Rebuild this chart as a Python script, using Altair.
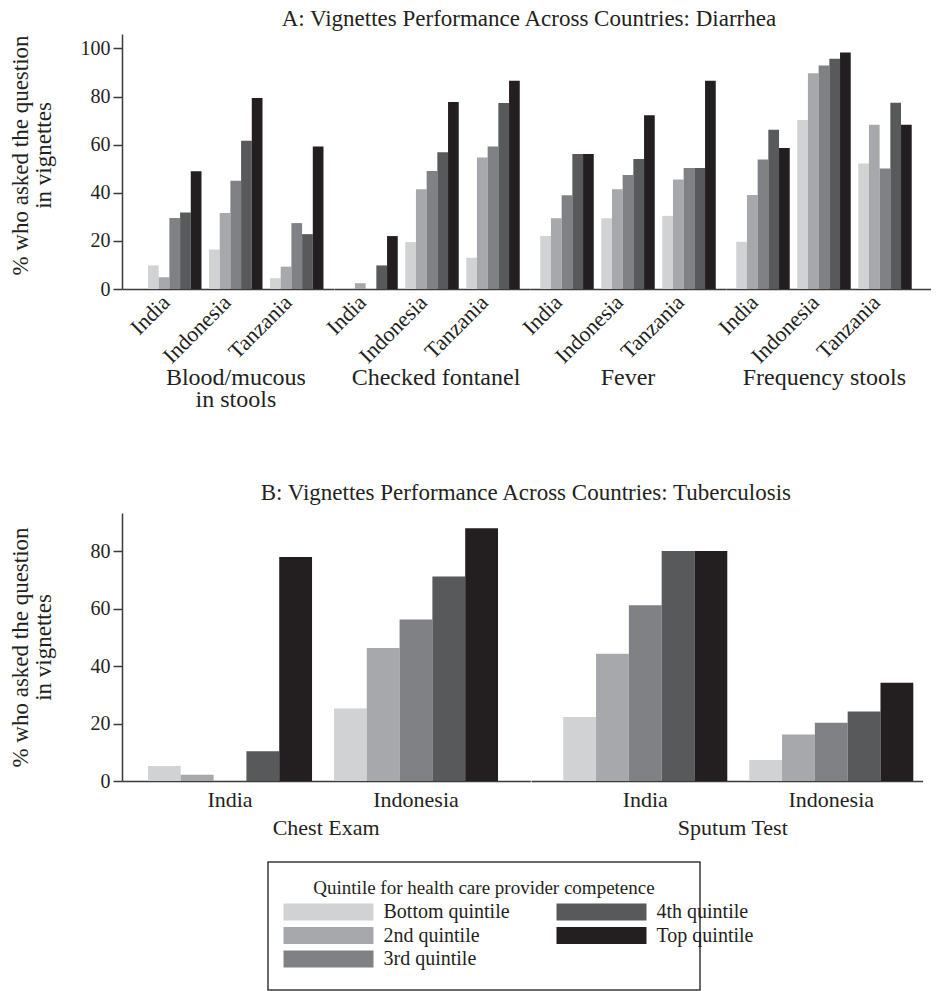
import altair as alt
import pandas as pd

FONT = "Liberation Serif"
INK = "#231f20"
AXIS = "#3a3a3a"

# ---------------- data ----------------
quintiles = ["Bottom quintile", "2nd quintile", "3rd quintile", "4th quintile", "Top quintile"]
shades = ["#d1d2d4", "#a7a8ab", "#808184", "#58595b", "#231f20"]

countries_a = ["India", "Indonesia", "Tanzania"]
conditions_a = ["Blood/mucous in stools", "Checked fontanel", "Fever", "Frequency stools"]
# empty trailing lines under "Fever" only widen the block below panel A
titles_a = [["Blood/mucous", "in stools"], ["Checked fontanel"], ["Fever", "", ""], ["Frequency stools"]]
title_line_heights_a = [22, 22, 35, 22]

blood_india = [9.8, 4.9, 29.5, 31.8, 48.9]
blood_indonesia = [16.4, 31.6, 45.0, 61.6, 79.4]
blood_tanzania = [4.5, 9.3, 27.4, 22.8, 59.2]

fontanel_india = [0.0, 2.4, 0.0, 9.8, 22.0]
fontanel_indonesia = [19.5, 41.5, 49.0, 56.8, 77.7]
fontanel_tanzania = [13.0, 54.7, 59.2, 77.3, 86.6]

fever_india = [22.0, 29.4, 39.0, 56.1, 56.1]
fever_indonesia = [29.4, 41.5, 47.4, 54.0, 72.2]
fever_tanzania = [30.4, 45.5, 50.3, 50.3, 86.6]

freq_india = [19.6, 39.1, 53.8, 66.2, 58.6]
freq_indonesia = [70.2, 89.7, 92.9, 95.7, 98.3]
freq_tanzania = [52.2, 68.3, 50.1, 77.4, 68.3]

values_a = [
    [blood_india, blood_indonesia, blood_tanzania],
    [fontanel_india, fontanel_indonesia, fontanel_tanzania],
    [fever_india, fever_indonesia, fever_tanzania],
    [freq_india, freq_indonesia, freq_tanzania],
]

countries_b = ["India", "Indonesia"]
conditions_b = ["Chest Exam", "Sputum Test"]

chest_india = [5.2, 2.2, 0.0, 10.4, 78.0]
chest_indonesia = [25.2, 46.3, 56.2, 71.2, 88.0]
sputum_india = [22.3, 44.3, 61.2, 80.1, 80.1]
sputum_indonesia = [7.3, 16.2, 20.3, 24.2, 34.2]

values_b = [
    [chest_india, chest_indonesia],
    [sputum_india, sputum_indonesia],
]

legend_title = "Quintile for health care provider competence"
y_title = ["% who asked the question", "in vignettes"]


def records(condition, countries, vals):
    rows = []
    for c, series in zip(countries, vals):
        for q, v in zip(quintiles, series):
            rows.append({"condition": condition, "country": c, "quintile": q, "value": v})
    return pd.DataFrame(rows)


color = alt.Color("quintile:N", scale=alt.Scale(domain=quintiles, range=shades), legend=None)


def bar_panel(df, countries, title_lines, title_lh, width, height, y_max, y_ticks, show_y,
              pad_outer, pad_inner, align, label_angle, label_pad, label_size, label_baseline,
              title_size, title_offset, title_dx, y_title_pad, y_title_y):
    if show_y:
        yax = alt.Axis(title=y_title, values=y_ticks, grid=False, domainColor=AXIS,
                       domainWidth=1.5, tickColor=AXIS, tickWidth=1.5, tickSize=9,
                       labelPadding=3, labelFontSize=20, labelColor=INK,
                       titleFontSize=23, titleFontWeight="normal", titleColor=INK,
                       titlePadding=y_title_pad, titleLineHeight=23, titleY=y_title_y)
        y = alt.Y("value:Q", scale=alt.Scale(domain=[0, y_max], nice=False), axis=yax)
    else:
        y = alt.Y("value:Q", scale=alt.Scale(domain=[0, y_max], nice=False), axis=None)
    xax = alt.Axis(title=None, ticks=False, domainColor=AXIS, domainWidth=1.5,
                   labelAngle=label_angle, labelPadding=label_pad, labelFontSize=label_size,
                   labelBaseline=label_baseline, labelColor=INK)
    x = alt.X("country:N", sort=countries,
              scale=alt.Scale(domain=countries, paddingInner=pad_inner,
                              paddingOuter=pad_outer, align=align),
              axis=xax)
    return (
        alt.Chart(df)
        .mark_bar()
        .encode(
            x=x,
            xOffset=alt.XOffset("quintile:N", sort=quintiles,
                                scale=alt.Scale(domain=quintiles, paddingInner=0, paddingOuter=0)),
            y=y,
            color=color,
        )
        .properties(
            width=width,
            height=height,
            title=alt.TitleParams(text=title_lines, orient="bottom", anchor="middle",
                                  frame="group", fontSize=title_size, fontWeight="normal",
                                  color=INK, offset=title_offset, dx=title_dx,
                                  lineHeight=title_lh),
        )
    )


# ---------------- panel A ----------------
a_widths = [211.75, 196, 196, 204.75]
a_pad_outer = [0.297, 0.168, 0.168, 0.240]
a_align = [0.717, 0.5, 0.5, 0.35]
a_dx = [8, 4, 0, -4]
subs_a = []
for i, cond in enumerate(conditions_a):
    subs_a.append(
        bar_panel(records(cond, countries_a, values_a[i]), countries_a, titles_a[i],
                  title_line_heights_a[i], a_widths[i], 255, 106, [0, 20, 40, 60, 80, 100],
                  i == 0, a_pad_outer[i], 0.123, a_align[i], -45, 18, 22, "bottom",
                  24, -1, a_dx[i], 25, 121)
    )

panel_a = alt.hconcat(
    *subs_a, spacing=0, bounds="flush",
    title=alt.TitleParams("A:  Vignettes Performance Across Countries: Diarrhea",
                          fontSize=23, fontWeight="normal", color=INK, anchor="middle",
                          dx=59, offset=3),
).resolve_scale(x="independent", y="independent", xOffset="independent")

# ---------------- panel B ----------------
b_widths = [408.3, 391.6]
b_pad_outer = [0.1567, 0.1117]
b_align = [0.446, 0.776]
b_dx = [0, 6]
subs_b = []
for i, cond in enumerate(conditions_b):
    subs_b.append(
        bar_panel(records(cond, countries_b, values_b[i]), countries_b, [cond], 22,
                  b_widths[i], 268, 93.3, [0, 20, 40, 60, 80], i == 0,
                  b_pad_outer[i], 0.118, b_align[i], 0, 8, 22, "top", 22, 8, b_dx[i], 35, 134)
    )

panel_b = alt.hconcat(
    *subs_b, spacing=0, bounds="flush",
    title=alt.TitleParams("B:  Vignettes Performance Across Countries: Tuberculosis",
                          fontSize=23, fontWeight="normal", color=INK, anchor="middle",
                          dx=60, offset=8),
).resolve_scale(x="independent", y="independent", xOffset="independent")

# ---------------- legend ----------------
leg_df = pd.DataFrame({"quintile": quintiles})
leg_base = (
    alt.Chart(leg_df)
    .transform_window(idx="row_number()")
    .transform_calculate(col="floor((datum.idx - 1) / 3)", row="(datum.idx - 1) % 3")
)
lx = alt.X("col:Q", scale=alt.Scale(domain=[-0.7564, 2.2033], nice=False, zero=False), axis=None)
ly = alt.Y("row:Q", scale=alt.Scale(domain=[-2.128, 3.319], nice=False, zero=False, reverse=True), axis=None)
swatches = leg_base.mark_point(
    shape="M-1,-0.19L1,-0.19L1,0.19L-1,0.19Z", filled=True, size=8100, opacity=1, strokeWidth=0
).encode(x=lx, y=ly, color=color)
labels = leg_base.mark_text(align="left", baseline="middle", dx=55, fontSize=20, color=INK).encode(
    x=lx, y=ly, text="quintile:N"
)
one = pd.DataFrame({"k": [0]})
frame = alt.Chart(one).mark_rect(fill="white", fillOpacity=0, stroke=AXIS, strokeWidth=1.5).encode(
    x=alt.value(146), x2=alt.value(578), y=alt.value(0), y2=alt.value(128)
)
leg_title = alt.Chart(one).mark_text(fontSize=19, color=INK, baseline="middle").encode(
    x=alt.value(362), y=alt.value(26), text=alt.value(legend_title)
)
legend = alt.layer(frame, leg_title, swatches, labels).properties(width=808, height=128)

chart = (
    alt.vconcat(panel_a, panel_b, legend, spacing=22)
    .properties(padding={"left": 0, "top": 0, "right": 0, "bottom": 0})
    .configure(font=FONT)
    .configure_view(stroke=None)
)

chart.save("out.html", embed_options={"renderer": "svg", "actions": False})
